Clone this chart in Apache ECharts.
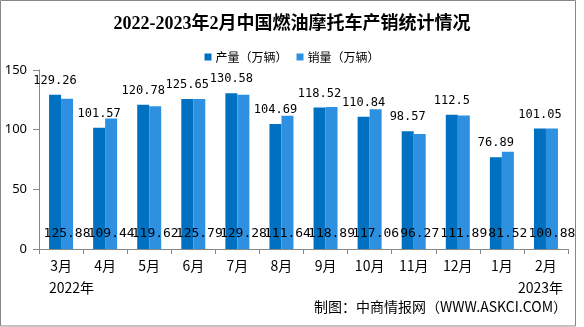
<!DOCTYPE html>
<html><head><meta charset="utf-8">
<script src="https://cdn.jsdelivr.net/npm/echarts@6/dist/echarts.min.js"></script>
<style>html,body{margin:0;padding:0;background:#fff}#c{width:584px;height:327px}</style>
</head><body><div id="c"></div>
<script>
var categories = ['3月','4月','5月','6月','7月','8月','9月','10月','11月','12月','1月','2月'];
var production = [129.26, 101.57, 120.78, 125.65, 130.58, 104.69, 118.52, 110.84, 98.57, 112.5, 76.89, 101.05];
var sales = [125.88, 109.44, 119.62, 125.79, 129.28, 111.64, 118.89, 117.06, 96.27, 111.89, 81.52, 100.88];
var seriesNames = ['产量（万辆）', '销量（万辆）'];
var yTicks = [0, 50, 100, 150];
var titleText = '2022-2023年2月中国燃油摩托车产销统计情况';
var yearLabels = ['2022年', '2023年'];
var sourceText = '制图：中商情报网（WWW.ASKCI.COM）';

var chart = echarts.init(document.getElementById('c'), null, {renderer: 'canvas'});
var numFont = 'DejaVu Sans Mono, monospace';
var cjk = '"Noto Sans CJK SC", "Noto Sans", sans-serif';
chart.setOption({
  animation: false,
  backgroundColor: '#fff',
  title: {
    text: titleText, left: 'center', top: 10,
    textStyle: {fontFamily: '"Liberation Serif", "Noto Sans CJK SC", serif', fontWeight: 'bold', fontSize: 18, color: '#000'}
  },
  legend: {
    data: seriesNames, left: 'center', top: 46, itemWidth: 7, itemHeight: 7, itemGap: 9,
    icon: 'rect',
    textStyle: {fontFamily: cjk, fontSize: 12, color: '#000', padding: [0,0,0,-1]}
  },
  grid: {left: 39, right: 16, top: 70, bottom: 78, containLabel: false},
  xAxis: {
    type: 'category', data: categories,
    axisLine: {lineStyle: {color: '#888'}},
    axisTick: {show: true, length: 5, lineStyle: {color: '#888'}},
    axisLabel: {fontFamily: cjk, fontSize: 14, color: '#000', margin: 10}
  },
  yAxis: {
    type: 'value', min: yTicks[0], max: yTicks[yTicks.length-1], interval: 50,
    splitLine: {show: false},
    axisLine: {show: true, lineStyle: {color: '#888'}},
    axisTick: {show: true, length: 6, lineStyle: {color: '#888'}},
    axisLabel: {fontFamily: '"Noto Sans", sans-serif', fontSize: 13, color: '#000', margin: 12}
  },
  series: [
    {
      name: seriesNames[0], type: 'bar', data: production, barWidth: 12, barGap: '0%',
      itemStyle: {color: '#0070C0'},
      label: {show: true, position: 'top', distance: 8, fontFamily: numFont, fontSize: 12, color: '#000'}
    },
    {
      name: seriesNames[1], type: 'bar', data: sales, barWidth: 12, barGap: '0%',
      itemStyle: {color: '#2E90E0'},
      label: {show: true, position: 'insideBottom', distance: 9, fontFamily: numFont, fontSize: 13, color: '#000'}
    }
  ],
  graphic: [
    {type: 'rect', shape: {x: 0.5, y: 0.5, width: 575, height: 325.5}, style: {fill: null, stroke: '#888', lineWidth: 1}, silent: true, z: -1},
    {type: 'text', left: 49, top: 281, style: {text: yearLabels[0], font: '14px ' + cjk, fill: '#000'}},
    {type: 'text', left: 518, top: 281, style: {text: yearLabels[1], font: '14px ' + cjk, fill: '#000'}},
    {type: 'text', right: 17, top: 300, style: {text: sourceText, font: '14px ' + cjk, fill: '#000'}}
  ]
});
</script>
</body></html>
